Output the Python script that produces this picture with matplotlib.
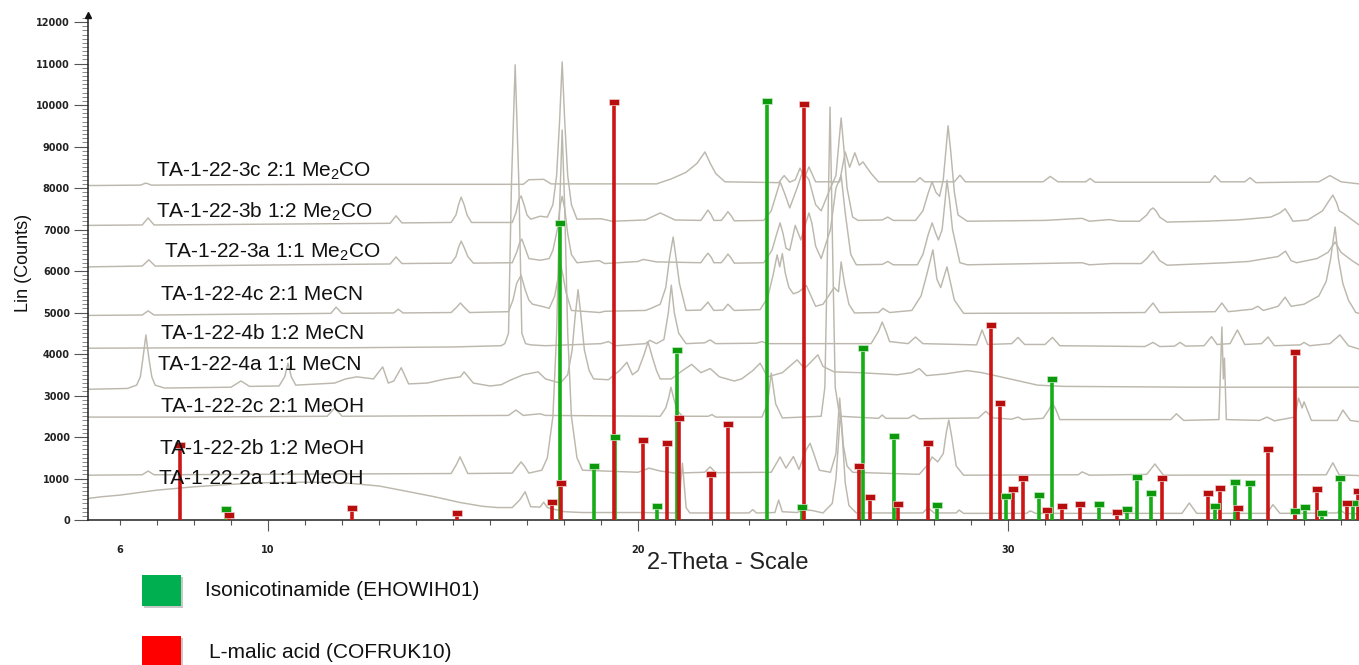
import matplotlib
matplotlib.use("Agg")
import matplotlib.pyplot as plt
from matplotlib.path import Path
from matplotlib.ticker import MultipleLocator, FixedLocator
from matplotlib.patches import Rectangle

plt.rcParams['font.family'] = ['Liberation Sans', 'DejaVu Sans']
plt.rcParams['mathtext.fontset'] = 'custom'
plt.rcParams['mathtext.rm'] = 'Liberation Sans'
plt.rcParams['mathtext.it'] = 'Liberation Sans:italic'
plt.rcParams['mathtext.bf'] = 'Liberation Sans:bold'

# ---------------- data (2-theta, counts) ----------------
TRACE_3C = [(5.14,8060),(6.55,8070),(6.7,8120),(6.85,8070),(9.0,8080),(12.0,8090),(16.9,8090),(17.05,8200),
            (17.45,8210),(17.65,8100),(20.5,8100),(20.9,8220),(21.3,8380),(21.6,8600),(21.81,8870),(21.95,8600),
            (22.1,8350),(22.35,8150),(23.8,8130),(23.95,8300),(24.1,8140),(24.25,8200),(24.38,8480),(24.5,8250),
            (24.62,8510),(24.8,8150),(25.45,8150),(25.6,8870),(25.72,8500),(25.86,8850),(25.98,8550),(26.08,8630),
            (26.3,8350),(26.5,8150),(27.5,8150),(27.62,8250),(27.75,8150),(28.55,8150),(28.7,8310),(28.85,8150),
            (30.95,8150),(31.14,8280),(31.35,8150),(32.1,8150),(32.22,8230),(32.35,8140),(35.45,8140),(35.59,8300),
            (35.75,8150),(36.4,8150),(36.54,8250),(36.7,8130),(38.4,8150),(38.7,8300),(39.0,8150),(39.49,8100)]

TRACE_3B = [(5.14,7100),(6.6,7110),(6.76,7280),(6.92,7110),(13.3,7150),(13.46,7330),(13.62,7160),(14.95,7170),
            (15.08,7350),(15.15,7600),(15.22,7780),(15.3,7600),(15.38,7350),(15.5,7170),(16.6,7170),(16.7,7400),
            (16.77,7700),(16.84,7810),(16.92,7600),(17.0,7350),(17.1,7250),(17.35,7320),(17.55,7300),(17.7,7600),
            (17.8,8300),(17.88,9600),(17.95,11040),(18.02,9600),(18.1,8300),(18.2,7600),(18.35,7250),(19.0,7260),
            (19.3,7200),(20.2,7230),(20.6,7400),(21.0,7230),(21.7,7220),(21.8,7350),(21.89,7470),(21.98,7350),
            (22.05,7220),(22.25,7220),(22.35,7330),(22.43,7430),(22.52,7330),(22.6,7210),(23.4,7220),(23.6,7450),
            (23.72,7800),(23.84,8150),(23.95,7900),(24.1,7520),(24.3,8000),(24.45,8400),(24.62,8200),(24.8,7600),
            (24.95,7450),(25.2,8000),(25.35,8300),(25.42,9000),(25.49,9690),(25.56,9000),(25.65,8000),(25.8,7300),
            (25.95,7220),(26.6,7230),(26.75,7300),(26.9,7220),(27.5,7220),(27.7,7450),(27.85,7900),(27.95,8150),
            (28.05,7900),(28.15,7800),(28.25,8200),(28.32,8900),(28.38,9500),(28.45,8900),(28.55,7900),(28.65,7350),
            (28.9,7200),(31.0,7220),(32.0,7270),(32.2,7200),(32.75,7240),(33.0,7200),(33.55,7200),(33.75,7350),
            (33.85,7480),(33.92,7520),(34.0,7450),(34.1,7300),(34.3,7180),(35.3,7200),(36.2,7230),(37.1,7300),
            (37.35,7400),(37.49,7500),(37.6,7350),(37.7,7200),(38.1,7230),(38.5,7450),(38.68,7700),(38.78,7830),
            (38.88,7650),(38.95,7450),(39.05,7400),(39.2,7300),(39.49,7110)]

TRACE_3A = [(5.14,6100),(6.6,6120),(6.78,6270),(6.95,6120),(13.3,6170),(13.46,6340),(13.62,6180),(14.95,6190),
            (15.08,6350),(15.15,6570),(15.22,6720),(15.3,6570),(15.4,6350),(15.55,6190),(16.6,6200),(16.72,6450),
            (16.8,6680),(16.86,6770),(16.95,6550),(17.05,6300),(17.35,6260),(17.6,6300),(17.7,6500),(17.82,7000),
            (17.9,7600),(17.95,7800),(18.02,7500),(18.1,6900),(18.2,6400),(18.35,6200),(18.95,6250),(19.1,6180),
            (20.0,6230),(20.14,6280),(20.5,6220),(21.7,6200),(21.8,6330),(21.89,6430),(21.98,6330),(22.05,6200),
            (22.25,6200),(22.35,6310),(22.43,6410),(22.52,6310),(22.6,6190),(23.4,6200),(23.62,6500),(23.75,6900),
            (23.84,7160),(23.92,6900),(24.0,6550),(24.1,6500),(24.25,7100),(24.4,6750),(24.55,7200),(24.62,7400),
            (24.7,7150),(24.8,6600),(24.95,6300),(25.2,7000),(25.35,8000),(25.49,8300),(25.6,7400),(25.75,6400),
            (25.9,6150),(26.6,6160),(26.75,6230),(26.9,6150),(27.55,6150),(27.7,6400),(27.85,6900),(27.95,7160),
            (28.05,6900),(28.12,6750),(28.22,7000),(28.3,7700),(28.35,8190),(28.42,7700),(28.5,7000),(28.7,6200),
            (28.9,6150),(32.0,6200),(32.2,6150),(32.8,6180),(33.6,6180),(33.75,6300),(33.92,6480),(34.1,6250),
            (34.3,6140),(35.9,6200),(36.5,6230),(37.3,6350),(37.5,6480),(37.65,6250),(37.8,6200),(38.35,6300),
            (38.65,6450),(38.84,6700),(39.0,6450),(39.15,6350),(39.3,6250),(39.49,6140)]

TRACE_4C = [(5.14,4930),(6.6,4940),(6.76,5040),(6.92,4940),(11.7,4980),(11.84,5130),(12.0,4980),(13.4,4990),
            (13.52,5080),(13.65,4990),(14.95,5000),(15.1,5130),(15.2,5230),(15.3,5130),(15.45,5000),(16.5,5020),
            (16.62,5300),(16.72,5700),(16.84,5900),(16.95,5550),(17.05,5300),(17.15,5200),(17.4,5150),(17.6,5100),
            (17.75,5400),(17.85,5900),(17.9,6200),(17.97,5900),(18.05,5500),(18.2,5050),(18.97,5000),(19.1,5030),
            (20.2,5050),(20.35,5100),(20.6,5200),(20.75,5600),(20.85,6300),(20.95,6820),(21.03,6300),(21.12,5700),
            (21.3,5050),(21.7,5060),(21.89,5250),(22.05,5050),(22.3,5060),(22.43,5200),(22.6,5050),(23.3,5070),
            (23.5,5350),(23.65,5900),(23.76,6390),(23.83,6100),(23.9,6420),(23.98,5950),(24.08,5600),(24.2,5450),
            (24.35,5500),(24.55,5650),(24.8,5150),(25.0,5200),(25.3,5600),(25.42,5500),(25.49,6220),(25.58,5700),
            (25.7,5200),(25.85,4990),(26.5,5000),(26.62,5100),(26.8,5000),(27.4,5050),(27.65,5400),(27.8,5900),
            (27.97,6510),(28.08,5800),(28.18,5600),(28.35,6100),(28.45,5700),(28.55,5300),(28.8,4980),(32.0,4990),
            (33.7,5000),(33.92,5230),(34.1,5000),(35.6,5020),(35.78,5230),(35.95,5020),(36.6,5080),(36.75,5150),
            (36.9,5050),(37.3,5150),(37.49,5370),(37.65,5150),(38.0,5200),(38.4,5400),(38.6,5750),(38.72,6300),
            (38.84,7060),(38.93,6300),(39.05,5700),(39.2,5300),(39.4,5000),(39.49,4980)]

TRACE_4B = [(5.14,4140),(8.0,4150),(12.0,4150),(15.0,4170),(16.3,4200),(16.4,4250),(16.5,4500),(16.58,8100),
            (16.68,10970),(16.78,8100),(16.86,4500),(16.96,4250),(17.1,4220),(17.5,4200),(19.0,4250),(19.2,4300),
            (19.4,4200),(20.2,4250),(20.32,4330),(20.5,4250),(20.7,4350),(20.82,5000),(20.9,5660),(20.98,5000),
            (21.1,4500),(21.3,4250),(21.8,4270),(21.95,4340),(22.1,4250),(23.2,4260),(23.35,4300),(23.5,4250),
            (26.3,4250),(26.5,4550),(26.6,4770),(26.7,4550),(26.8,4300),(27.3,4250),(27.5,4410),(27.7,4250),
            (29.15,4220),(29.3,4580),(29.45,4230),(30.1,4250),(30.27,4400),(30.45,4230),(31.0,4230),(31.2,4400),
            (31.4,4200),(33.7,4180),(33.92,4280),(34.1,4180),(34.5,4190),(34.65,4280),(34.8,4190),(35.3,4200),
            (35.5,4420),(35.65,4230),(36.0,4250),(36.2,4580),(36.4,4230),(36.85,4250),(37.03,4410),(37.2,4200),
            (37.9,4220),(38.0,4280),(38.15,4200),(38.7,4250),(38.97,4460),(39.2,4200),(39.49,4120)]

TRACE_4A = [(5.14,3150),(6.2,3170),(6.45,3250),(6.55,3450),(6.62,3900),(6.7,4460),(6.78,3900),(6.86,3450),
            (6.95,3250),(7.2,3180),(9.0,3200),(9.27,3350),(9.5,3220),(10.3,3230),(10.45,3450),(10.54,3780),
            (10.63,3450),(10.75,3250),(11.8,3300),(12.1,3400),(12.4,3450),(12.85,3400),(13.1,3690),(13.25,3300),
            (13.4,3350),(13.6,3670),(13.8,3280),(14.3,3300),(14.8,3400),(15.2,3450),(15.3,3570),(15.55,3300),
            (16.0,3230),(16.3,3260),(16.55,3370),(16.9,3500),(17.3,3570),(17.5,3400),(17.9,3300),(18.1,3500),
            (18.22,4100),(18.3,4900),(18.38,5550),(18.46,4900),(18.55,4100),(18.68,3600),(18.8,3400),(19.2,3380),
            (19.5,3600),(19.7,3800),(19.85,3500),(20.0,3600),(20.15,3950),(20.27,4290),(20.38,3950),(20.5,3600),
            (20.6,3400),(20.9,3400),(21.2,3600),(21.45,3750),(21.7,3550),(21.95,3650),(22.2,3450),(22.6,3350),
            (22.8,3400),(23.1,3600),(23.3,3780),(23.5,3450),(23.9,3550),(24.3,3860),(24.5,3650),(24.86,3980),
            (25.0,3700),(25.3,3570),(26.0,3550),(27.0,3500),(27.4,3550),(27.6,3650),(27.8,3480),(28.3,3520),
            (28.9,3600),(29.3,3550),(29.8,3450),(30.3,3350),(30.8,3250),(31.5,3220),(35.0,3200),(39.49,3200)]

TRACE_2C = [(5.14,2480),(8.0,2480),(11.6,2500),(11.8,2700),(12.0,2500),(16.5,2520),(16.7,2650),(16.9,2520),
            (17.35,2560),(17.5,2520),(20.6,2500),(20.75,2700),(20.83,2950),(20.89,3200),(20.96,2950),(21.05,2650),
            (21.2,2500),(21.9,2500),(22.0,2540),(22.1,2480),(23.35,2480),(23.5,2800),(23.6,3540),(23.72,2800),
            (23.9,2460),(24.95,2500),(25.05,3200),(25.11,6000),(25.19,9950),(25.27,6000),(25.33,3200),(25.45,2500),
            (26.5,2450),(26.6,2530),(26.7,2450),(27.3,2450),(27.45,2530),(27.6,2440),(29.2,2460),(29.4,2620),
            (29.6,2460),(30.1,2430),(30.27,2480),(30.4,2420),(30.95,2450),(31.1,2650),(31.2,2820),(31.3,2650),
            (31.4,2420),(34.4,2420),(34.55,2560),(34.75,2400),(35.7,2420),(35.78,4650),(35.82,3400),(35.85,3900),
            (35.9,2420),(36.8,2400),(37.0,2480),(37.2,2390),(37.75,2480),(37.85,2940),(37.95,2700),(38.0,2850),
            (38.2,2400),(38.9,2400),(39.05,2650),(39.25,2400),(39.49,2370)]

TRACE_2B = [(5.14,1080),(6.6,1090),(6.76,1180),(6.92,1090),(14.95,1120),(15.1,1350),(15.19,1520),(15.28,1350),
            (15.4,1120),(16.6,1130),(16.75,1300),(16.84,1400),(16.93,1300),(17.05,1130),(17.4,1200),(17.55,1500),
            (17.7,2500),(17.8,4500),(17.88,7500),(17.95,9400),(18.02,7500),(18.1,4500),(18.2,2500),(18.35,1500),
            (18.5,1200),(20.0,1150),(20.3,1250),(20.6,1180),(21.0,1130),(21.8,1150),(21.95,1280),(22.1,1140),
            (23.6,1150),(23.84,1520),(24.0,1250),(24.2,1530),(24.35,1220),(24.55,1700),(24.65,1850),(24.75,1600),
            (24.9,1200),(25.2,1150),(25.35,1600),(25.45,2940),(25.55,1800),(25.65,1300),(25.8,1150),(27.6,1100),
            (27.85,1350),(27.95,1520),(28.1,1400),(28.25,1600),(28.33,2100),(28.4,2410),(28.48,2000),(28.6,1300),
            (28.8,1080),(31.9,1090),(32.0,1160),(32.2,1080),(33.75,1100),(33.97,1350),(34.2,1080),(38.6,1090),
            (38.78,1380),(38.95,1090),(39.49,1070)]

TRACE_2A = [(5.14,520),(5.5,560),(6.0,600),(7.0,720),(8.0,800),(9.0,860),(10.0,900),(11.0,910),(12.0,900),
            (13.0,820),(13.7,700),(14.5,560),(15.2,420),(15.8,330),(16.2,300),(16.6,300),(16.8,480),(16.95,680),
            (17.1,320),(17.35,310),(17.45,430),(17.55,300),(18.0,200),(18.5,180),(20.0,180),(21.0,170),(21.1,300),
            (21.2,1370),(21.3,300),(21.4,170),(23.0,170),(23.1,250),(23.2,170),(23.7,180),(23.8,480),(23.9,200),
            (24.3,180),(24.5,250),(24.7,230),(25.0,170),(25.25,400),(25.35,1000),(25.42,1900),(25.47,2600),
            (25.53,1900),(25.6,900),(25.7,350),(25.9,170),(27.7,170),(27.84,300),(28.0,170),(28.6,170),(28.68,240),
            (28.8,160),(30.5,160),(30.6,220),(30.75,160),(34.7,160),(34.9,410),(35.1,160),(37.0,160),(37.16,370),
            (37.35,160),(38.9,170),(38.97,250),(39.1,160),(39.49,150)]

TRACE_LABELS = ["TA-1-22-3c 2:1 Me$\\mathregular{_2}$CO", "TA-1-22-3b 1:2 Me$\\mathregular{_2}$CO",
                "TA-1-22-3a 1:1 Me$\\mathregular{_2}$CO", "TA-1-22-4c 2:1 MeCN", "TA-1-22-4b 1:2 MeCN",
                "TA-1-22-4a 1:1 MeCN", "TA-1-22-2c 2:1 MeOH", "TA-1-22-2b 1:2 MeOH", "TA-1-22-2a 1:1 MeOH"]
TRACES = [TRACE_3C, TRACE_3B, TRACE_3A, TRACE_4C, TRACE_4B, TRACE_4A, TRACE_2C, TRACE_2B, TRACE_2A]

# reference stick patterns (2-theta, counts)
ISN_POS = [8.86, 17.89, 18.81, 19.38, 20.50, 21.05, 23.49, 24.43, 26.08, 26.92, 28.08, 29.95, 30.84, 31.19,
           32.46, 33.22, 33.49, 33.86, 35.59, 36.14, 36.54, 37.76, 38.03, 38.49, 38.97, 39.32]
ISN_INT = [265, 7150, 1300, 2000, 340, 4100, 10100, 310, 4150, 2020, 360, 580, 600, 3400,
           385, 265, 1040, 650, 340, 915, 890, 215, 315, 170, 1010, 410]
MAL_POS = [7.62, 8.95, 12.27, 15.10, 17.68, 17.92, 19.35, 20.14, 20.78, 21.10, 21.97, 22.43, 24.49, 25.97,
           26.27, 27.03, 27.84, 29.54, 29.78, 30.14, 30.40, 31.05, 31.46, 31.95, 32.95, 34.16, 35.41, 35.73,
           36.22, 37.03, 37.76, 38.35, 39.16, 39.45]
MAL_INT = [1810, 120, 290, 170, 430, 890, 10070, 1930, 1860, 2460, 1110, 2310, 10030, 1300,
           550, 390, 1860, 4700, 2820, 745, 1015, 240, 340, 385, 190, 1015, 650, 770,
           290, 1710, 4050, 745, 410, 700]

LEGEND_LABELS = ["Isonicotinamide (EHOWIH01)", "L-malic acid (COFRUK10)"]
X_MAJOR = [6, 10, 20, 30]
Y_MAJOR = list(range(0, 12001, 1000))

# ---------------- figure ----------------
W, H = 1359, 665
fig = plt.figure(figsize=(W / 100, H / 100), dpi=100)
ax = fig.add_axes([88 / W, (H - 520) / H, 1 - 88 / W, (520 - 15) / H])
ax.set_xlim(5.135, 39.486)
ax.set_ylim(0, 12170)

trace_col = '#bcb8ad'
for pts in TRACES:
    xs = [p[0] for p in pts]
    ys = [p[1] for p in pts]
    ax.plot(xs, ys, color=trace_col, lw=1.05, zorder=2, solid_joinstyle='round')

cap = Path([(-1, -0.62), (1, -0.62), (1, 0.62), (-1, 0.62), (-1, -0.62)],
           [Path.MOVETO, Path.LINETO, Path.LINETO, Path.LINETO, Path.CLOSEPOLY])
for pos, inten, col, capcol in [(ISN_POS, ISN_INT, '#17ad17', '#0c9a0c'),
                                (MAL_POS, MAL_INT, '#cc1515', '#b80d0d')]:
    ax.vlines(pos, 0, inten, colors=col, lw=2.6, zorder=3)
    ax.plot(pos, inten, ls='none', marker=cap, ms=6.5, color=capcol, mec='#f0d0d0' if capcol == '#b80d0d' else '#c8ecc8',
            mew=0.5, zorder=4)

# trace labels
label_xy = [(156, 171), (156, 212), (164, 252), (161, 295), (161, 333), (158, 365), (161, 407), (160, 448), (159, 478)]
for txt, (px, py) in zip(TRACE_LABELS, label_xy):
    fig.text(px / W, 1 - py / H, txt, fontsize=15, ha='left', va='center', color='#111111', zorder=5)

# axes styling
for s in ['top', 'right']:
    ax.spines[s].set_visible(False)
for s in ['left', 'bottom']:
    ax.spines[s].set_color('#222222')
    ax.spines[s].set_linewidth(1.1)

ax.yaxis.set_major_locator(FixedLocator(Y_MAJOR))
ax.yaxis.set_minor_locator(MultipleLocator(100))
ax.xaxis.set_major_locator(FixedLocator(X_MAJOR))
ax.xaxis.set_minor_locator(MultipleLocator(1))
ax.set_xticklabels([str(v) for v in X_MAJOR])
ax.set_yticklabels([str(v) for v in Y_MAJOR])
ax.tick_params(axis='y', which='major', direction='out', length=10, width=0.8, color='#555555', pad=3)
ax.tick_params(axis='y', which='minor', direction='out', length=4.3, width=0.6, color='#777777')
ax.tick_params(axis='x', which='major', direction='out', length=8, width=0.8, color='#555555', pad=10)
ax.tick_params(axis='x', which='minor', direction='out', length=3.6, width=0.8, color='#555555')
for lab in ax.get_xticklabels() + ax.get_yticklabels():
    lab.set_fontfamily('DejaVu Sans')
    lab.set_fontweight('bold')
    lab.set_fontsize(7)
    lab.set_color('#222222')
ax.xaxis.get_major_ticks()[0].tick1line.set_markersize(3.6)

# arrow at top of y axis
ax.plot([5.135], [12170], marker='^', ms=5, color='#111111', clip_on=False, zorder=6)

fig.text(24 / W, 1 - 263 / H, "Lin (Counts)", rotation=90, ha='center', va='center', fontsize=13, color='#111111')
fig.text(728 / W, 1 - 563 / H, "2-Theta - Scale", ha='center', va='center', fontsize=17, color='#222222')

# legend
for (y0, col, txt, tx) in [(575, '#00b050', LEGEND_LABELS[0], 205), (636, '#ff0000', LEGEND_LABELS[1], 209)]:
    shadow = Rectangle(((142 + 2) / W, 1 - (y0 + 31 + 2) / H), 39 / W, 31 / H, transform=fig.transFigure,
                       facecolor='#c8c8c8', edgecolor='none', zorder=1)
    fig.patches.append(shadow)
    r = Rectangle((142 / W, 1 - (y0 + 31) / H), 39 / W, 31 / H, transform=fig.transFigure,
                  facecolor=col, edgecolor='none', zorder=2)
    fig.patches.append(r)
    fig.text(tx / W, 1 - (y0 + 16) / H, txt, fontsize=15, ha='left', va='center', color='#111111')

fig.savefig("out.png", dpi=100)
